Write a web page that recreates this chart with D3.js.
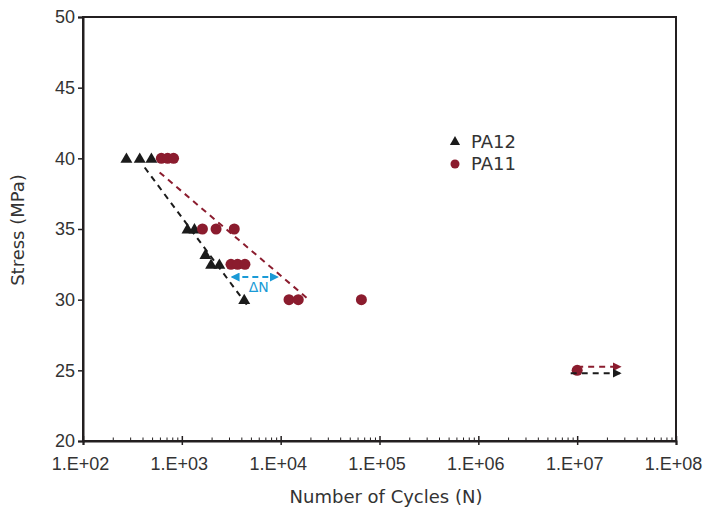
<!DOCTYPE html>
<html>
<head>
<meta charset="utf-8">
<script src="https://cdn.jsdelivr.net/npm/d3@7"></script>
<style>
  body { margin: 0; background: #fff; }
  svg { display: block; font-family: "DejaVu Sans", sans-serif; }
  .tick text { fill: #333; font-size: 18px; }
</style>
</head>
<body>
<svg width="709" height="514"></svg>
<script>
// data
var pa12Cycles = [275, 375, 492, 1141, 1342, 1733, 1977, 2397, 4279];
var pa12Stress = [40, 40, 40, 35, 35, 33.2, 32.5, 32.5, 30];
var pa11Cycles = [620, 718, 825, 1616, 2220, 3393, 3142, 3664, 4350, 12150, 15070, 65600, 1.0e7];
var pa11Stress = [40, 40, 40, 35, 35, 35, 32.5, 32.5, 32.5, 30, 30, 30, 25];
// dashed trend lines [N, stress]
var pa12Trend = [[421, 39.35], [4590, 29.6]];
var pa11Trend = [[596, 39.0], [19300, 30.0]];
// run-out arrows
var pa12Runout = [[8.6e6, 24.8], [2.7e7, 24.8]];
var pa11Runout = [[1.0e7, 25.25], [2.7e7, 25.25]];
var deltaN = [[3243, 31.6], [9204, 31.6]];
var yTicks = [20, 25, 30, 35, 40, 45, 50];
var xTicks = [1e2, 1e3, 1e4, 1e5, 1e6, 1e7, 1e8];
var legendLabels = ["PA12", "PA11"];

var red = "#8b1c2e", black = "#1b1b1b", blue = "#1a9ad6";

var svg = d3.select("svg");
var x = d3.scaleLog().domain([1e2, 1e8]).range([83, 676]);
var y = d3.scaleLinear().domain([20, 50]).range([441, 17]);

var defs = svg.append("defs");
function marker(id, color, orient) {
  defs.append("marker")
    .attr("id", id)
    .attr("viewBox", "0 0 10 10")
    .attr("refX", 8).attr("refY", 5)
    .attr("markerWidth", 4.5).attr("markerHeight", 4.5)
    .attr("orient", orient)
    .append("path").attr("d", "M0,0L10,5L0,10z").attr("fill", color);
}
marker("arrRed", red, "auto");
marker("arrBlack", black, "auto");
marker("arrBlue", blue, "auto-start-reverse");

// frame
svg.append("rect")
  .attr("x", x(1e2)).attr("y", y(50))
  .attr("width", x(1e8) - x(1e2)).attr("height", y(20) - y(50))
  .attr("fill", "none").attr("stroke", "#231f20").attr("stroke-width", 2);

// y axis
var yAxis = svg.append("g")
  .attr("transform", "translate(" + x(1e2) + ",0)")
  .call(d3.axisLeft(y).tickValues(yTicks).tickSize(5).tickPadding(3));
yAxis.select(".domain").attr("stroke", "#231f20").attr("stroke-width", 2);
yAxis.selectAll(".tick line").attr("stroke", "#231f20").attr("stroke-width", 1.5);

// x axis minor ticks
var minor = [];
xTicks.slice(0, -1).forEach(function(d) {
  for (var k = 2; k <= 9; k++) minor.push(d * k);
});
svg.append("g")
  .attr("transform", "translate(0," + y(20) + ")")
  .call(d3.axisBottom(x).tickValues(minor).tickSize(-3.5).tickFormat(""))
  .call(function(g) {
    g.select(".domain").remove();
    g.selectAll(".tick line").attr("stroke", "#231f20").attr("stroke-width", 1);
  });

// x axis major
var xAxis = svg.append("g")
  .attr("transform", "translate(0," + y(20) + ")")
  .call(d3.axisBottom(x).tickValues(xTicks).tickSize(4).tickPadding(12)
    .tickFormat(function(d) { return "1.E+" + d3.format("02d")(Math.round(Math.log10(d))); }));
xAxis.select(".domain").attr("stroke", "#231f20").attr("stroke-width", 2);
xAxis.selectAll(".tick line").attr("y1", -5).attr("stroke", "#231f20").attr("stroke-width", 1.5);
xAxis.selectAll(".tick text").attr("dx", -3);

// axis titles
svg.append("text")
  .attr("x", 386).attr("y", 503)
  .attr("text-anchor", "middle").attr("fill", "#333").attr("font-size", 18)
  .text("Number of Cycles (N)");
svg.append("text")
  .attr("transform", "translate(24," + (y(35) + 1) + ") rotate(-90)")
  .attr("text-anchor", "middle").attr("fill", "#333").attr("font-size", 18)
  .text("Stress (MPa)");

var line = d3.line().x(function(d) { return x(d[0]); }).y(function(d) { return y(d[1]); });

// trend lines
svg.append("path").attr("d", line(pa11Trend))
  .attr("stroke", red).attr("stroke-width", 2).attr("stroke-dasharray", "6,5").attr("fill", "none");
svg.append("path").attr("d", line(pa12Trend))
  .attr("stroke", black).attr("stroke-width", 2).attr("stroke-dasharray", "6,5").attr("fill", "none");

// delta N arrow
svg.append("path").attr("d", line(deltaN))
  .attr("stroke", blue).attr("stroke-width", 2).attr("stroke-dasharray", "6,4").attr("fill", "none")
  .attr("marker-start", "url(#arrBlue)").attr("marker-end", "url(#arrBlue)");
svg.append("text")
  .attr("x", (x(deltaN[0][0]) + x(deltaN[1][0])) / 2 + 4).attr("y", y(deltaN[0][1]) + 15)
  .attr("text-anchor", "middle").attr("fill", blue).attr("font-size", 14)
  .text("ΔN");

var tri = d3.symbol().type(d3.symbolTriangle).size(62);

// PA12 points
svg.append("g").selectAll("path")
  .data(pa12Cycles.map(function(c, i) { return [c, pa12Stress[i]]; }))
  .enter().append("path")
  .attr("d", tri)
  .attr("transform", function(d) { return "translate(" + x(d[0]) + "," + (y(d[1]) + 1) + ")"; })
  .attr("fill", black);

// PA11 points
svg.append("g").selectAll("circle")
  .data(pa11Cycles.map(function(c, i) { return [c, pa11Stress[i]]; }))
  .enter().append("circle")
  .attr("cx", function(d) { return x(d[0]); })
  .attr("cy", function(d) { return y(d[1]); })
  .attr("r", 5.5)
  .attr("fill", red);

// run-out arrows
svg.append("path").attr("d", line(pa11Runout))
  .attr("stroke", red).attr("stroke-width", 2).attr("stroke-dasharray", "6,5").attr("fill", "none")
  .attr("marker-end", "url(#arrRed)");
svg.append("path").attr("d", line(pa12Runout))
  .attr("stroke", black).attr("stroke-width", 2).attr("stroke-dasharray", "6,5").attr("fill", "none")
  .attr("marker-end", "url(#arrBlack)");

// legend
var legend = svg.append("g").attr("transform", "translate(455,142)");
legendLabels.forEach(function(lab, i) {
  var g = legend.append("g").attr("transform", "translate(0," + i * 22 + ")");
  if (i === 0) g.append("path").attr("d", d3.symbol().type(d3.symbolTriangle).size(45)).attr("fill", black);
  else g.append("circle").attr("r", 4.5).attr("fill", red);
  g.append("text").attr("x", 16).attr("y", 6).attr("fill", "#333").attr("font-size", 18).text(lab);
});
</script>
</body>
</html>
